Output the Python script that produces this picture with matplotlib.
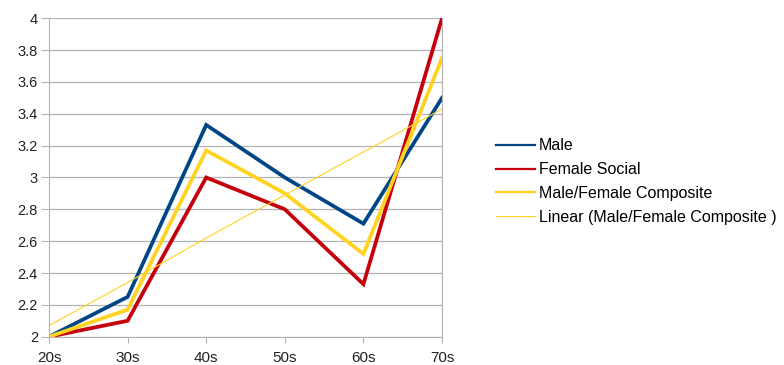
import matplotlib.pyplot as plt
from matplotlib.lines import Line2D

plt.rcParams['font.family'] = ['Liberation Sans', 'DejaVu Sans']

# data
decades = ['20s', '30s', '40s', '50s', '60s', '70s']
male = [2.0, 2.25, 3.33, 3.0, 2.71, 3.5]
female_social = [2.0, 2.1, 3.0, 2.8, 2.33, 4.0]
composite = [2.0, 2.17, 3.17, 2.9, 2.52, 3.75]
linear_composite = [2.07, 2.34, 2.62, 2.89, 3.16, 3.43]
y_ticks = [2, 2.2, 2.4, 2.6, 2.8, 3, 3.2, 3.4, 3.6, 3.8, 4]
y_labels = ['2', '2.2', '2.4', '2.6', '2.8', '3', '3.2', '3.4', '3.6', '3.8', '4']
series_names = ['Male', 'Female Social', 'Male/Female Composite', 'Linear (Male/Female Composite )']

blue, red, yellow = '#004586', '#c5000b', '#ffd320'

fig = plt.figure(figsize=(7.84, 3.65), dpi=100)
ax = fig.add_axes([0.0625, 0.0775, 0.5013, 0.8725])

x = list(range(len(decades)))
ax.plot(x, male, color=blue, lw=2.7, solid_joinstyle='miter')
ax.plot(x, female_social, color=red, lw=2.7, solid_joinstyle='miter')
ax.plot(x, composite, color=yellow, lw=2.7, solid_joinstyle='miter')
ax.plot(x, linear_composite, color=yellow, lw=0.8)

ax.set_xlim(0, 5)
ax.set_ylim(2, 4)
ax.set_xticks(x)
ax.set_xticklabels(decades)
ax.set_yticks(y_ticks)
ax.set_yticklabels(y_labels)
ax.grid(axis='y', color='#b3b3b3', lw=0.9)
ax.set_axisbelow(True)
for s in ['left', 'right', 'bottom']:
    ax.spines[s].set_color('#b3b3b3')
ax.spines['top'].set_visible(False)
ax.tick_params(axis='x', length=4, color='#b3b3b3', labelsize=11, pad=6, labelcolor='#222222')
ax.tick_params(axis='y', length=6, color='#b3b3b3', labelsize=10.5, pad=2, labelcolor='#222222')

handles = [Line2D([], [], color=blue, lw=1.6),
           Line2D([], [], color=red, lw=1.6),
           Line2D([], [], color=yellow, lw=1.6),
           Line2D([], [], color=yellow, lw=0.8)]
ax.legend(handles, series_names, loc='center left', bbox_to_anchor=(1.10, 0.487), frameon=False,
          fontsize=11.5, handlelength=2.45, handletextpad=0.25, labelspacing=0.55)

fig.savefig('out.png', dpi=100)
